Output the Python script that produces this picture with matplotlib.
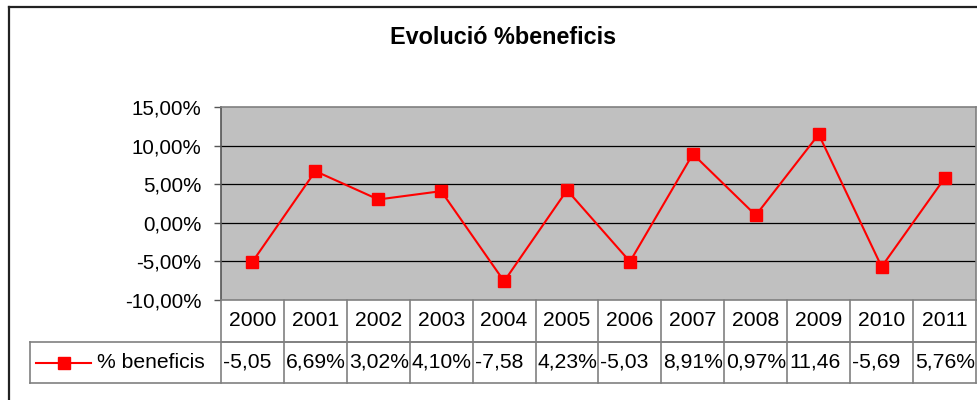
import matplotlib
matplotlib.use("Agg")
import matplotlib.pyplot as plt
from matplotlib.lines import Line2D
from matplotlib.transforms import blended_transform_factory

plt.rcParams['font.family'] = ['Liberation Sans', 'DejaVu Sans']

# ---- data ----
years = ['2000', '2001', '2002', '2003', '2004', '2005',
         '2006', '2007', '2008', '2009', '2010', '2011']
values = [-5.05, 6.69, 3.02, 4.10, -7.58, 4.23, -5.03, 8.91, 0.97, 11.46, -5.69, 5.76]
cell_labels = ['-5,05', '6,69%', '3,02%', '4,10%', '-7,58', '4,23%',
               '-5,03', '8,91%', '0,97%', '11,46', '-5,69', '5,76%']
yticks = [-10, -5, 0, 5, 10, 15]
ytick_labels = ['-10,00%', '-5,00%', '0,00%', '5,00%', '10,00%', '15,00%']
series_name = '% beneficis'
title = 'Evolució %beneficis'

W, H = 978, 400
fig = plt.figure(figsize=(W / 100, H / 100), dpi=100)
fig.patch.set_facecolor('white')

# plot area in pixels
left_px, right_px, top_px, bot_px = 221, 976, 107, 300
ax = fig.add_axes([left_px / W, 1 - bot_px / H, (right_px - left_px) / W, (bot_px - top_px) / H])
ax.set_facecolor('#C0C0C0')

x = list(range(len(years)))
ax.plot(x, values, color='#FF0000', lw=1.5, marker='s', markersize=8,
        markerfacecolor='#FF0000', markeredgecolor='#FF0000', zorder=3)

ax.set_xlim(-0.5, len(years) - 0.5)
ax.set_ylim(-10, 15)
ax.set_yticks(yticks)
ax.set_yticklabels(ytick_labels, fontsize=14.8)
ax.set_xticks([])
ax.tick_params(axis='y', direction='out', length=5, width=1, color='#555555', pad=9)
for v in yticks[1:-1]:
    ax.axhline(v, color='black', lw=0.9, zorder=1)
for s in ax.spines.values():
    s.set_color('#808080')
    s.set_linewidth(1.2)
ax.spines['left'].set_color('#555555')

# ---- data table below the axes ----
ax_h = bot_px - top_px
ax_w = right_px - left_px
r1 = -(342 - bot_px) / ax_h
r2 = -(383 - bot_px) / ax_h
tr = blended_transform_factory(ax.transData, ax.transAxes)
tcol = '#808080'
tlw = 1.2
fs = 15.2
ax.add_line(Line2D([-0.5, len(years) - 0.5], [r1, r1], transform=tr, color=tcol, lw=tlw, clip_on=False))
leg_left = (30 - left_px) / ax_w
ax.add_line(Line2D([leg_left, 1], [r1, r1], transform=ax.transAxes, color=tcol, lw=tlw, clip_on=False))
ax.add_line(Line2D([leg_left, 1], [r2, r2], transform=ax.transAxes, color=tcol, lw=tlw, clip_on=False))
ax.add_line(Line2D([leg_left, leg_left], [r1, r2], transform=ax.transAxes, color=tcol, lw=tlw, clip_on=False))
for i in range(len(years) + 1):
    xb = i - 0.5
    ax.add_line(Line2D([xb, xb], [0, r2], transform=tr, color=tcol, lw=tlw, clip_on=False))
for i, (yr, lab) in enumerate(zip(years, cell_labels)):
    ax.text(i, (0 + r1) / 2, yr, transform=tr, ha='center', va='center', fontsize=fs, clip_on=False)
    ax.text(i - 0.47, (r1 + r2) / 2, lab, transform=tr, ha='left', va='center', fontsize=fs, clip_on=False)

# legend key in table
ymid = (r1 + r2) / 2
lx0 = (36 - left_px) / ax_w
lx1 = (91 - left_px) / ax_w
ax.add_line(Line2D([lx0, lx1], [ymid, ymid], transform=ax.transAxes, color='#FF0000', lw=1.5, clip_on=False))
ax.add_line(Line2D([(lx0 + lx1) / 2], [ymid], transform=ax.transAxes, color='#FF0000', marker='s',
                   markersize=8, clip_on=False))
ax.text((97 - left_px) / ax_w, ymid, series_name, transform=ax.transAxes, ha='left', va='center',
        fontsize=fs, clip_on=False)

# title
fig.text(503 / W, 1 - 37 / H, title, ha='center', va='center', fontsize=16.8, fontweight='bold')

# outer chart frame
fig.add_artist(Line2D([8.5 / W, 8.5 / W], [0, 1 - 7 / H], color='#222222', lw=1.6))
fig.add_artist(Line2D([8.5 / W, 1], [1 - 7 / H, 1 - 7 / H], color='#222222', lw=1.6))

fig.savefig('out.png', dpi=100, facecolor='white')
